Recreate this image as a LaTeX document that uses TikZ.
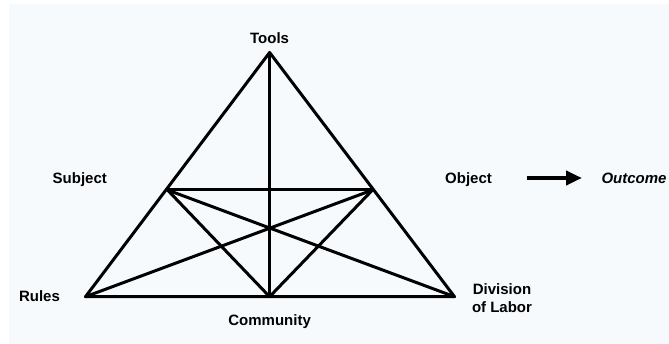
\documentclass[tikz,border=0pt]{standalone}
\usepackage{fontspec}
\setmainfont{Liberation Sans}
\usetikzlibrary{arrows.meta}
\definecolor{bgpale}{HTML}{F7FAFD}
\tikzset{
  lbl/.style={font=\fontsize{15}{17.7}\selectfont\bfseries, inner sep=0pt, align=center, anchor=base},
  edge/.style={line width=3pt, line join=round, line cap=round},
}
\begin{document}
\begin{tikzpicture}[x=1pt,y=-1pt]
\useasboundingbox (0,0) rectangle (669,344);
\fill[white] (0,0) rectangle (669,344);
\fill[bgpale] (9,4) rectangle (669,344);
% vertices
\coordinate (T) at (269.6,52.5);
\coordinate (S) at (167.5,190);
\coordinate (O) at (372.5,190);
\coordinate (R) at (85.5,296.7);
\coordinate (C) at (269.6,296.7);
\coordinate (D) at (454.5,296.7);
% triangle
\draw[edge] (T) -- (R) -- (D) -- cycle;
\draw[edge] (T) -- (C);
\draw[edge] (S) -- (O);
\draw[edge] (S) -- (C);
\draw[edge] (O) -- (C);
\draw[edge] (S) -- (D);
\draw[edge] (O) -- (R);
% labels
\node[lbl] (tools) at (269.6,44) {Tools};
\node[lbl] (subject) at (79.8,184) {Subject};
\node[lbl] (object) at (468.5,183.3) {Object};
\node[lbl] (outcome) at (634,183.5) {\itshape Outcome};
\node[lbl] (rules) at (39.5,301.7) {Rules};
\node[lbl] (community) at (269.6,325.5) {Community};
\node[lbl, anchor=north] (division) at (502,283.5) {Division\\of Labor};
\coordinate (a1) at (527,178);
\coordinate (a2) at (582,178);
\draw[line width=4.5pt, -{Triangle[length=16pt,width=14pt]}] (a1) -- (a2);
\end{tikzpicture}
\end{document}
